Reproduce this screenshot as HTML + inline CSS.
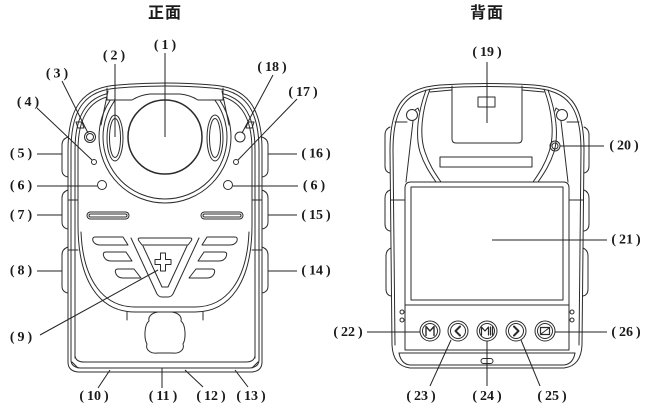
<!DOCTYPE html>
<html>
<head>
<meta charset="utf-8">
<style>
  html,body{margin:0;padding:0;background:#fff;}
  body{width:652px;height:410px;overflow:hidden;}
  svg{display:block;}
  .s{fill:none;stroke:#2b2b2b;stroke-width:1;stroke-linejoin:round;stroke-linecap:round;}
  .ld{fill:none;stroke:#222;stroke-width:1;}
  .l{font-family:"Liberation Serif","Noto Serif CJK SC",serif;font-weight:bold;font-size:14px;fill:#1a1a1a;text-anchor:middle;}
  .t{font-family:"Liberation Sans","Noto Sans CJK SC",sans-serif;font-weight:700;font-size:16px;fill:#1a1a1a;letter-spacing:1px;}
</style>
</head>
<body>
<svg width="652" height="410" viewBox="0 0 652 410" xmlns="http://www.w3.org/2000/svg">
<defs>
  <clipPath id="cr"><rect x="0" y="100.5" width="330" height="310"/></clipPath>
  <clipPath id="ch"><rect x="0" y="0" width="107" height="410"/><rect x="223" y="0" width="107" height="410"/><rect x="0" y="104" width="330" height="306"/></clipPath>
</defs>

<!-- Titles -->
<text class="t" x="148" y="18">正面</text>
<text class="t" x="470" y="18">背面</text>

<!-- ================= FRONT ================= -->
<g class="s">
  <path d="M68,362 L68,150 C68,106 84,87 118,85 Q165,81 212,85 C246,87 262,106 262,150 L262,362 Q262,371 252,372 L78,372 Q68,371 68,362 Z"/>
  <path d="M71,360 L71,150 C71,108 86,90 118,88 Q165,84 212,88 C244,90 259,108 259,150 L259,360 Q259,367 250,368 L80,368 Q71,367 71,360 Z"/>
  <g clip-path="url(#ch)">
    <path d="M75,358 L75,150 C75,112 89,94 118,92 Q165,88 212,92 C241,94 255,112 255,150 L255,358"/>
    <path d="M78,225 L78,150 C78,115 91,97 118,95 Q165,91 212,95 C239,97 252,115 252,150 L252,225"/>
  </g>
  <path d="M78,225 C78,282 100,312 135,312 L195,312 C230,312 252,282 252,225"/>
  <path d="M81,232 C83,281 104,307 135,307 L195,307 C226,307 247,281 249,232"/>
  <path d="M127,312 L127,320 M203,312 L203,320"/>
  <path d="M75,356 Q76,362 84,362 L246,362 Q254,362 255,356"/>
  <path d="M72,362 L78,368 M258,362 L252,368"/>
  <path d="M68,200 L78,200 M68,250 L78,250 M252,200 L262,200 M252,250 L262,250"/>
  <path d="M76,122 L82,122 L84,128 L78,128 Z M254,122 L248,122 L246,128 L252,128 Z"/>
  <path d="M68,137 Q62,139 62,145 L62,170 Q62,176 68,177"/>
  <path d="M68,190 Q62,192 62,198 L62,222 Q62,228 68,229"/>
  <path d="M68,247 Q62,249 62,255 L62,286 Q62,292 68,293"/>
  <path d="M262,137 Q268,139 268,145 L268,170 Q268,176 262,177"/>
  <path d="M262,190 Q268,192 268,198 L268,222 Q268,228 262,229"/>
  <path d="M262,247 Q268,249 268,255 L268,286 Q268,292 262,293"/>
  <path d="M107,88 L107,100 M223,88 L223,100"/>
  <path d="M107,100 L132,100 Q140,95 150,94 L180,94 Q190,95 198,100 L223,100"/>
  <path d="M108,91 L101,125 M222,91 L229,125"/>
  <g clip-path="url(#cr)">
    <circle cx="165" cy="137" r="66"/>
    <circle cx="165" cy="137" r="62"/>
  </g>
  <circle cx="165" cy="137" r="37" stroke-width="1.5"/>
  <ellipse cx="115" cy="138" rx="8" ry="23"/>
  <ellipse cx="115" cy="138" rx="5.5" ry="19.5"/>
  <ellipse cx="215" cy="138" rx="8" ry="23"/>
  <ellipse cx="215" cy="138" rx="5.5" ry="19.5"/>
  <circle cx="90" cy="137" r="5.5"/>
  <circle cx="90" cy="137" r="3.5"/>
  <circle cx="240" cy="137" r="5"/>
  <circle cx="94" cy="162" r="2.5"/>
  <circle cx="236" cy="162" r="2.5"/>
  <circle cx="102" cy="185" r="4.5"/>
  <circle cx="228" cy="185" r="4.5"/>
  <rect x="87" y="212" width="42" height="7" rx="3.5"/>
  <rect x="89" y="214" width="38" height="3" rx="1.5"/>
  <rect x="201" y="212" width="42" height="7" rx="3.5"/>
  <rect x="203" y="214" width="38" height="3" rx="1.5"/>
  <path d="M95,237 L123,237 L128,245 L100,245 Q95,245 93,241 Q92,237 95,237 Z"/>
  <path d="M106,252 L126,252 L132,261 L111,261 Q106,261 104,257 Q102,252 106,252 Z"/>
  <path d="M118,269 L134,269 L141,278 L123,278 Q118,278 116,274 Q114,269 118,269 Z"/>
  <path d="M235,237 L207,237 L202,245 L230,245 Q235,245 237,241 Q238,237 235,237 Z"/>
  <path d="M224,252 L204,252 L198,261 L219,261 Q224,261 226,257 Q228,252 224,252 Z"/>
  <path d="M212,269 L196,269 L189,278 L207,278 Q212,278 214,274 Q216,269 212,269 Z"/>
  <path d="M140,238 L190,238 Q193,238 191,241 L188,245 L142,245 L139,241 Q137,238 140,238 Z"/>
  <path d="M131,238 L157,294 Q159,297 162,297 L168,297 Q171,297 173,294 L199,238"/>
  <path d="M143,246 L162,287 L168,287 L187,246"/>
  <path d="M160.5,253 L165.5,253 L165.5,259.5 L171,259.5 L171,264.5 L165.5,264.5 L165.5,271 L160.5,271 L160.5,264.5 L155,264.5 L155,259.5 L160.5,259.5 Z"/>
  <path d="M158,312 C151,313 148,317 149,321 C144,325 144,339 147,344 C145,350 151,354 158,353 L172,353 C179,354 185,350 183,344 C186,339 186,325 181,321 C182,317 179,313 172,312"/>
</g>

<g class="ld">
  <path d="M165,53 L165,137"/>
  <path d="M115,64 L115,137"/>
  <path d="M62,81 L88,133"/>
  <path d="M273,75 L242,133"/>
  <path d="M37,108 L92,160"/>
  <path d="M297,99 L238,160"/>
  <path d="M37,154 L62,154"/>
  <path d="M268,154 L297,154"/>
  <path d="M37,186 L97,186"/>
  <path d="M233,186 L298,186"/>
  <path d="M37,215 L62,215"/>
  <path d="M268,215 L297,215"/>
  <path d="M37,271 L62,271"/>
  <path d="M268,271 L297,271"/>
  <path d="M40,335 L158,270"/>
  <path d="M98,388 L110,370"/>
  <path d="M162,388 L162,368"/>
  <path d="M203,387 L185,370"/>
  <path d="M248,387 L235,370"/>
</g>

<text class="l" x="165" y="49">(<tspan dx="3">1</tspan><tspan dx="3">)</tspan></text>
<text class="l" x="114" y="59.5">(<tspan dx="3">2</tspan><tspan dx="3">)</tspan></text>
<text class="l" x="57" y="77.5">(<tspan dx="3">3</tspan><tspan dx="3">)</tspan></text>
<text class="l" x="272" y="71">(<tspan dx="3">18</tspan><tspan dx="3">)</tspan></text>
<text class="l" x="28" y="106">(<tspan dx="3">4</tspan><tspan dx="3">)</tspan></text>
<text class="l" x="303" y="96">(<tspan dx="3">17</tspan><tspan dx="3">)</tspan></text>
<text class="l" x="21" y="157.5">(<tspan dx="3">5</tspan><tspan dx="3">)</tspan></text>
<text class="l" x="316" y="157.5">(<tspan dx="3">16</tspan><tspan dx="3">)</tspan></text>
<text class="l" x="21" y="189.5">(<tspan dx="3">6</tspan><tspan dx="3">)</tspan></text>
<text class="l" x="314" y="189.5">(<tspan dx="3">6</tspan><tspan dx="3">)</tspan></text>
<text class="l" x="21" y="219">(<tspan dx="3">7</tspan><tspan dx="3">)</tspan></text>
<text class="l" x="316" y="219">(<tspan dx="3">15</tspan><tspan dx="3">)</tspan></text>
<text class="l" x="21" y="274.5">(<tspan dx="3">8</tspan><tspan dx="3">)</tspan></text>
<text class="l" x="316" y="274.5">(<tspan dx="3">14</tspan><tspan dx="3">)</tspan></text>
<text class="l" x="21" y="341">(<tspan dx="3">9</tspan><tspan dx="3">)</tspan></text>
<text class="l" x="94" y="400">(<tspan dx="3">10</tspan><tspan dx="3">)</tspan></text>
<text class="l" x="163" y="400">(<tspan dx="3">11</tspan><tspan dx="3">)</tspan></text>
<text class="l" x="211" y="400">(<tspan dx="3">12</tspan><tspan dx="3">)</tspan></text>
<text class="l" x="251" y="400">(<tspan dx="3">13</tspan><tspan dx="3">)</tspan></text>

<!-- ================= BACK ================= -->
<g class="s">
  <path d="M392,345 L390,150 C390,103 405,88 440,85 Q487,82 534,85 C569,88 584,103 584,150 L582,345 Q581,366 564,368 L410,368 Q393,366 392,345 Z"/>
  <path d="M395,345 L393,150 C393,106 407,91 440,88 Q487,85 534,88 C567,91 581,106 581,150 L579,345"/>
  <path d="M399,353 Q401,364 410,365 L564,365 Q573,364 575,353"/>
  <path d="M399,353 L575,353"/>
  <path d="M390,127 Q385,129 385,135 L385,166 Q385,172 390,173"/>
  <path d="M390,190 Q385,192 385,198 L385,224 Q385,230 390,231"/>
  <path d="M391,248 Q386,250 386,256 L386,289 Q386,295 391,296"/>
  <path d="M584,127 Q589,129 589,135 L589,166 Q589,172 584,173"/>
  <path d="M584,190 Q589,192 589,198 L589,224 Q589,230 584,231"/>
  <path d="M583,248 Q588,250 588,256 L588,289 Q588,295 583,296"/>
  <path d="M430,89 C422,110 419,135 425,152 C429,164 434,172 441,182"/>
  <path d="M426,90 C418,112 415,135 420,152 C424,164 429,172 436,182"/>
  <path d="M544,89 C552,110 555,135 549,152 C545,164 540,172 533,182"/>
  <path d="M548,90 C556,112 559,135 554,152 C550,164 545,172 538,182"/>
  <path d="M395,122 L407,122 M413,121 L406,182"/>
  <path d="M579,122 L567,122 M561,121 L568,182"/>
  <path d="M430,92 L452,90 M544,92 L522,90"/>
  <circle cx="412" cy="115" r="5.5"/>
  <path d="M415,110 L418,108 L419,111"/>
  <circle cx="562" cy="115" r="5.5"/>
  <path d="M559,110 L556,108 L555,111"/>
  <path d="M452,86 L452,139 Q452,143 456,143 L518,143 Q522,143 522,139 L522,86"/>
  <rect x="478" y="97" width="17" height="10"/>
  <rect x="440" y="157" width="92" height="10"/>
  <circle cx="555" cy="146" r="5"/>
  <circle cx="555" cy="146" r="3"/>
  <path d="M405,350 L405,188 Q405,182 411,182 L563,182 Q569,182 569,188 L569,350 Z"/>
  <path d="M405,305 L569,305"/>
  <rect x="411" y="187" width="152" height="113"/>
  <path d="M391,200 L405,200 M569,200 L583,200"/>
  <circle cx="402" cy="312" r="2"/>
  <circle cx="402" cy="320" r="2"/>
  <circle cx="572" cy="312" r="2"/>
  <circle cx="572" cy="320" r="2"/>
  <rect x="481" y="358.5" width="12" height="5" rx="2.5"/>
  <circle cx="430" cy="331" r="10"/><circle cx="430" cy="331" r="7.5"/>
  <circle cx="458" cy="331" r="10"/><circle cx="458" cy="331" r="7.5"/>
  <circle cx="487" cy="331" r="10"/><circle cx="487" cy="331" r="7.5"/>
  <circle cx="516" cy="331" r="10"/><circle cx="516" cy="331" r="7.5"/>
  <circle cx="545" cy="331" r="10"/><circle cx="545" cy="331" r="7.5"/>
  <path d="M426,335.5 L426,326.5 L430,331 L434,326.5 L434,335.5" stroke-width="1.4"/>
  <path d="M460,326.5 L455.5,331 L460,335.5" stroke-width="2"/>
  <path d="M481.5,335 L481.5,327 L485,331 L488.5,327 L488.5,335 M490.5,327 L490.5,335 M492.5,327 L492.5,335" stroke-width="1.2"/>
  <path d="M514,326.5 L518.5,331 L514,335.5" stroke-width="2"/>
  <rect x="540.5" y="327.5" width="9" height="7" stroke-width="1.2"/>
  <path d="M541,334 L549,328" stroke-width="1"/>
</g>

<g class="ld">
  <path d="M487,62 L487,123"/>
  <path d="M560,146 L604,146"/>
  <path d="M492,240 L607,240"/>
  <path d="M367,332 L420,332"/>
  <path d="M555,332 L607,332"/>
  <path d="M430,386 L451,340"/>
  <path d="M487,386 L487,341"/>
  <path d="M540,386 L521,340"/>
</g>

<text class="l" x="487" y="56">(<tspan dx="3">19</tspan><tspan dx="3">)</tspan></text>
<text class="l" x="624" y="149.5">(<tspan dx="3">20</tspan><tspan dx="3">)</tspan></text>
<text class="l" x="626" y="243.5">(<tspan dx="3">21</tspan><tspan dx="3">)</tspan></text>
<text class="l" x="348" y="336">(<tspan dx="3">22</tspan><tspan dx="3">)</tspan></text>
<text class="l" x="626" y="336">(<tspan dx="3">26</tspan><tspan dx="3">)</tspan></text>
<text class="l" x="421" y="400">(<tspan dx="3">23</tspan><tspan dx="3">)</tspan></text>
<text class="l" x="487" y="400">(<tspan dx="3">24</tspan><tspan dx="3">)</tspan></text>
<text class="l" x="552" y="400">(<tspan dx="3">25</tspan><tspan dx="3">)</tspan></text>
</svg>
</body>
</html>
